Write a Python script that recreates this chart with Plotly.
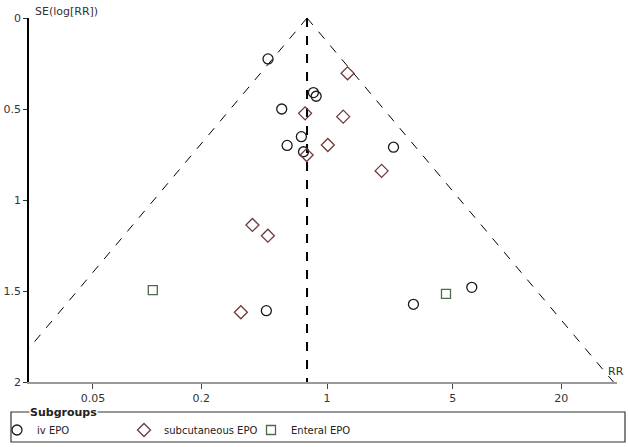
import math

import plotly.graph_objects as go

# study estimates (risk ratio, standard error of log RR)
iv_rr = [0.47, 0.84, 0.87, 0.56, 0.72, 0.60, 0.74, 2.34, 0.46, 3.02, 6.37]
iv_se = [0.225, 0.41, 0.43, 0.50, 0.652, 0.70, 0.735, 0.71, 1.608, 1.573, 1.48]

sc_rr = [1.30, 0.755, 1.23, 1.01, 0.77, 2.01, 0.385, 0.469, 0.332]
sc_se = [0.304, 0.524, 0.542, 0.698, 0.753, 0.84, 1.137, 1.196, 1.617]

en_rr = [0.1076, 4.58]
en_se = [1.495, 1.516]

pooled_rr = 0.774
funnel_se = [0, 2]

x_ticks = [0.05, 0.2, 1, 5, 20]
y_ticks = [0, 0.5, 1, 1.5, 2]

W, H = 628, 447
L, R, T, B = 29, 11, 18, 65
PW, PH = W - L - R, H - T - B


def px_x(p):
    return (p - L) / PW


def px_y(p):
    return (H - B - p) / PH


FONT = "DejaVu Sans"

fig = go.Figure()

# pooled estimate and 95% pseudo confidence limits
fig.add_trace(go.Scatter(
    x=[pooled_rr, pooled_rr], y=funnel_se, mode='lines',
    line=dict(color='black', width=2, dash='dash'),
    showlegend=False, hoverinfo='skip'))
for sign in (-1, 1):
    fx = [pooled_rr * math.exp(sign * 1.96 * s) for s in funnel_se]
    fig.add_trace(go.Scatter(
        x=fx, y=funnel_se, mode='lines',
        line=dict(color='black', width=1, dash='dash'),
        showlegend=False, hoverinfo='skip'))

fig.add_trace(go.Scatter(
    x=iv_rr, y=iv_se, mode='markers', name='iv EPO',
    marker=dict(symbol='circle-open', size=10, color='#1a1a1a',
                line=dict(width=1.3))))
fig.add_trace(go.Scatter(
    x=sc_rr, y=sc_se, mode='markers', name='subcutaneous EPO',
    marker=dict(symbol='diamond-open', size=10, color='#6e3b3b',
                line=dict(width=1.3))))
fig.add_trace(go.Scatter(
    x=en_rr, y=en_se, mode='markers', name='Enteral EPO',
    marker=dict(symbol='square-open', size=9, color='#4d6b4d',
                line=dict(width=1.3))))

fig.update_layout(
    width=W, height=H,
    margin=dict(l=L, r=R, t=T, b=B, autoexpand=False),
    plot_bgcolor='white', paper_bgcolor='white',
    font=dict(family=FONT, size=11, color='#333'),
    xaxis=dict(
        type='log', range=[-1.656, 1.611], automargin=False,
        tickvals=x_ticks, ticktext=[str(v) for v in x_ticks],
        showline=True, linecolor='#999', linewidth=1.5,
        ticks='outside', ticklen=5, tickcolor='#444',
        showgrid=False, zeroline=False),
    yaxis=dict(
        range=[2, 0], automargin=False,
        tickvals=y_ticks, ticktext=['0', '0.5', '1', '1.5', '2'],
        showline=True, linecolor='black', linewidth=1.5,
        ticks='outside', ticklen=4, tickcolor='#333',
        showgrid=False, zeroline=False),
    legend=dict(
        orientation='h', x=px_x(-3), xanchor='left',
        y=px_y(430), yanchor='middle',
        entrywidth=82, font=dict(size=10, color='#222'),
        bgcolor='rgba(0,0,0,0)'),
    shapes=[dict(
        type='rect', xref='paper', yref='paper',
        x0=px_x(11), x1=px_x(625), y0=px_y(442), y1=px_y(412),
        line=dict(color='#333', width=1.2))],
    annotations=[
        dict(text='SE(log[RR])', xref='paper', yref='paper',
             x=px_x(33), y=px_y(11), xanchor='left', yanchor='middle',
             showarrow=False, font=dict(size=11, color='#333')),
        dict(text='RR', xref='paper', yref='paper',
             x=px_x(626), y=px_y(371), xanchor='right', yanchor='middle',
             showarrow=False, font=dict(size=11, color='#333')),
        dict(text='<b>Subgroups</b>', xref='paper', yref='paper',
             x=px_x(29), y=px_y(412), xanchor='left', yanchor='middle',
             showarrow=False, bgcolor='white', borderpad=0,
             font=dict(size=11, color='#222')),
    ],
)

# drop the default page margin so the figure sits at the window's corner
fig.write_html("out.html", config={'displayModeBar': False},
               post_script="document.body.style.margin='0px';")
